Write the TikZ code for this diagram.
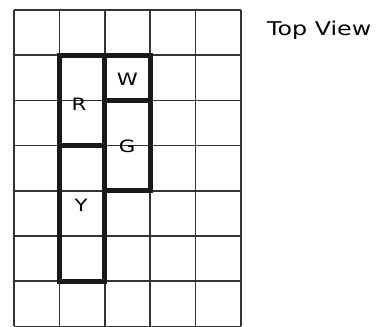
\documentclass[tikz,border=0pt]{standalone}
\usepackage{fontspec}
\setmainfont{DejaVu Sans}
\newfontfamily\widefont[FakeStretch=1.25]{DejaVu Sans}
\begin{document}
\begin{tikzpicture}[x=1pt,y=-1pt,
  gridline/.style={line width=1.5pt,draw=black!80},
  thick box/.style={line width=4.8pt,draw=black!90,line join=miter},
  lbl/.style={font=\widefont\fontsize{17}{17}\selectfont,inner sep=0pt}]
\useasboundingbox (0,0) rectangle (378,327);
\def\cw{45.4}
\def\rh{45.2}
\foreach \i in {0,...,5} \draw[gridline] (14+\i*\cw,10) -- (14+\i*\cw,10+7*\rh);
\foreach \j in {0,...,7} \draw[gridline] (14,10+\j*\rh) -- (14+5*\cw,10+\j*\rh);
% R and Y column
\draw[thick box] (14+\cw,10+\rh) rectangle (14+2*\cw,10+6*\rh);
\draw[thick box] (14+\cw,10+3*\rh) -- (14+2*\cw,10+3*\rh);
% W and G
\draw[thick box] (14+2*\cw,10+\rh) rectangle (14+3*\cw,10+4*\rh);
\draw[thick box] (14+2*\cw,10+2*\rh) -- (14+3*\cw,10+2*\rh);
\node[lbl] (R) at (79,104) {R};
\node[lbl] (W) at (127.5,79.5) {W};
\node[lbl] (G) at (127,146) {G};
\node[lbl] (Y) at (81,205) {Y};
\node[font=\widefont\fontsize{19}{19}\selectfont,anchor=west,inner sep=0pt] (T) at (267,30) {Top View};
\end{tikzpicture}
\end{document}
